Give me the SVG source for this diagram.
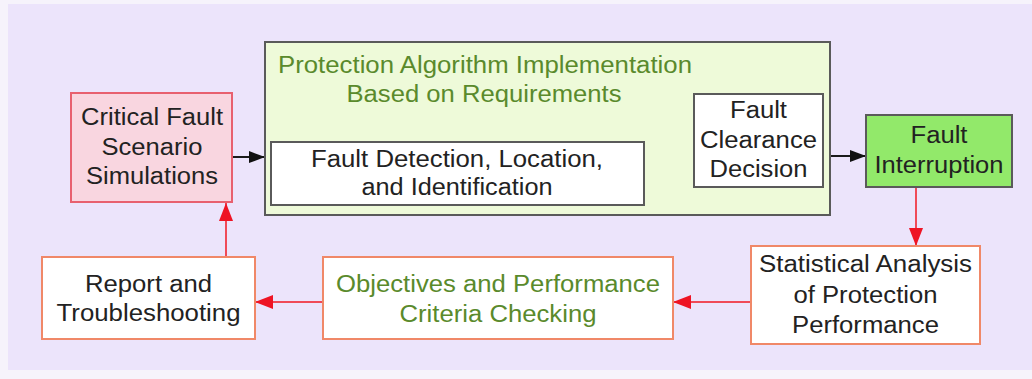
<svg xmlns="http://www.w3.org/2000/svg" width="1032" height="379" viewBox="0 0 1032 379">
  <style>
    .t { font-family: "Liberation Sans", Arial, Helvetica, sans-serif; font-size: 23px; text-anchor: middle; fill: #222222; }
    .g { fill: #5a8a2c; }
    .box-grey { stroke: #5a5a5a; stroke-width: 2; }
    .box-orange { fill: #ffffff; stroke: #f08868; stroke-width: 2; }
    .c-black { fill: none; stroke: #1a1a1a; stroke-width: 2; }
    .c-red { fill: none; stroke: #f04a58; stroke-width: 2; }
  </style>
  <defs>
    <marker id="ahBlack" markerUnits="userSpaceOnUse" markerWidth="18" markerHeight="14" refX="16" refY="7" orient="auto">
      <path d="M0,1 L16,7 L0,13 Z" fill="#111111"/>
    </marker>
    <marker id="ahRed" markerUnits="userSpaceOnUse" markerWidth="20" markerHeight="16" refX="18" refY="8" orient="auto">
      <path d="M0,1 L18,8 L0,15 Z" fill="#ee1424"/>
    </marker>
  </defs>

  <!-- page and panel -->
  <rect x="0" y="0" width="1032" height="379" fill="#f6f3fb"/>
  <rect x="8" y="4" width="1024" height="366" fill="#ece4fb"/>

  <!-- connectors -->
  <g id="connectors">
    <line class="c-black" x1="232" y1="157" x2="265" y2="157" marker-end="url(#ahBlack)"/>
    <line class="c-black" x1="644" y1="157" x2="694" y2="157" stroke-dasharray="3 3" marker-end="url(#ahBlack)"/>
    <line class="c-black" x1="823" y1="156" x2="866" y2="156" marker-end="url(#ahBlack)"/>
    <line class="c-red" x1="916" y1="187" x2="916" y2="246" marker-end="url(#ahRed)"/>
    <line class="c-red" x1="751" y1="302" x2="673" y2="302" marker-end="url(#ahRed)"/>
    <line class="c-red" x1="323" y1="302" x2="255" y2="302" marker-end="url(#ahRed)"/>
    <line class="c-red" x1="226" y1="257" x2="226" y2="203" marker-end="url(#ahRed)"/>
  </g>

  <!-- scenario simulations -->
  <g id="critical-fault">
    <rect x="71" y="93" width="161" height="109" fill="#f9d6e0" stroke="#e8606f" stroke-width="2"/>
    <text class="t" x="152" y="125" textLength="142" lengthAdjust="spacingAndGlyphs">Critical Fault</text>
    <text class="t" x="152" y="155" textLength="101" lengthAdjust="spacingAndGlyphs">Scenario</text>
    <text class="t" x="152" y="184" textLength="132" lengthAdjust="spacingAndGlyphs">Simulations</text>
  </g>

  <!-- algorithm implementation container -->
  <g id="protection-algorithm">
    <rect class="box-grey" x="265" y="42" width="565" height="173" fill="#eefad9"/>
    <text class="t g" x="485" y="73" textLength="414" lengthAdjust="spacingAndGlyphs">Protection Algorithm Implementation</text>
    <text class="t g" x="484" y="102" textLength="275" lengthAdjust="spacingAndGlyphs">Based on Requirements</text>
  </g>

  <g id="fault-detection">
    <rect class="box-grey" x="271" y="142" width="373" height="63" fill="#ffffff"/>
    <text class="t" x="457" y="167" textLength="292" lengthAdjust="spacingAndGlyphs">Fault Detection, Location,</text>
    <text class="t" x="457" y="195" textLength="191" lengthAdjust="spacingAndGlyphs">and Identification</text>
  </g>

  <g id="fault-clearance">
    <rect class="box-grey" x="694" y="94" width="129" height="93" fill="#ffffff"/>
    <text class="t" x="758.5" y="118" textLength="57" lengthAdjust="spacingAndGlyphs">Fault</text>
    <text class="t" x="758.5" y="148" textLength="117" lengthAdjust="spacingAndGlyphs">Clearance</text>
    <text class="t" x="758.5" y="177" textLength="98" lengthAdjust="spacingAndGlyphs">Decision</text>
  </g>

  <g id="fault-interruption">
    <rect class="box-grey" x="866" y="115" width="146" height="72" fill="#92e96a"/>
    <text class="t" x="939" y="143" textLength="57" lengthAdjust="spacingAndGlyphs">Fault</text>
    <text class="t" x="939" y="173" textLength="129" lengthAdjust="spacingAndGlyphs">Interruption</text>
  </g>

  <g id="statistical-analysis">
    <rect class="box-orange" x="751" y="246" width="229" height="98"/>
    <text class="t" x="865.5" y="272" textLength="213" lengthAdjust="spacingAndGlyphs">Statistical Analysis</text>
    <text class="t" x="865.5" y="303" textLength="144" lengthAdjust="spacingAndGlyphs">of Protection</text>
    <text class="t" x="865.5" y="333" textLength="147" lengthAdjust="spacingAndGlyphs">Performance</text>
  </g>

  <g id="objectives-checking">
    <rect class="box-orange" x="323" y="257" width="350" height="82"/>
    <text class="t g" x="498" y="292" textLength="324" lengthAdjust="spacingAndGlyphs">Objectives and Performance</text>
    <text class="t g" x="498" y="322" textLength="197" lengthAdjust="spacingAndGlyphs">Criteria Checking</text>
  </g>

  <g id="report-troubleshooting">
    <rect class="box-orange" x="42" y="257" width="213" height="82"/>
    <text class="t" x="148.5" y="292" textLength="127" lengthAdjust="spacingAndGlyphs">Report and</text>
    <text class="t" x="148.5" y="321" textLength="184" lengthAdjust="spacingAndGlyphs">Troubleshooting</text>
  </g>
</svg>
